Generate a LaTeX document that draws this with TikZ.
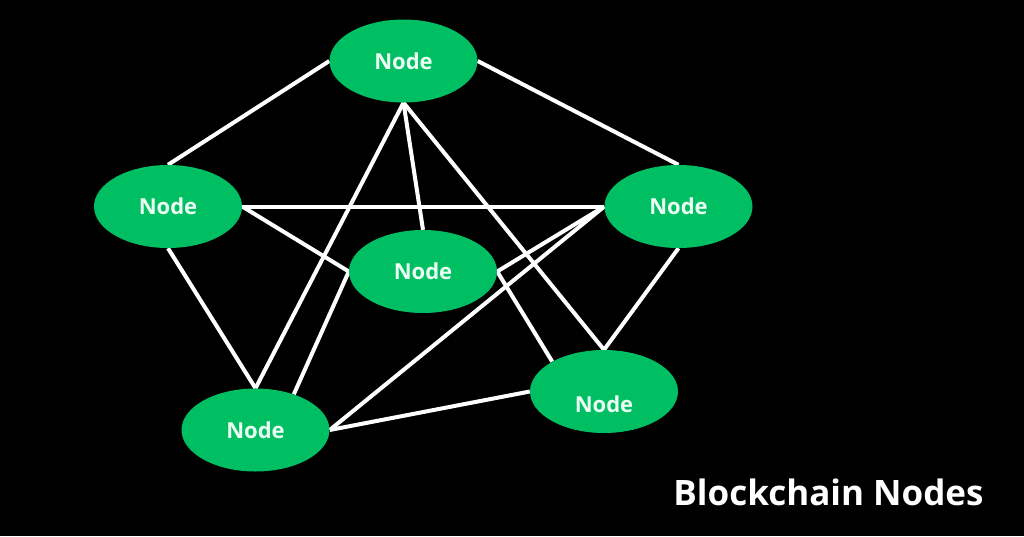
\documentclass[tikz,border=0pt]{standalone}
\usepackage{fontspec}
\setmainfont{Open Sans}
\usetikzlibrary{shapes.geometric,calc}
\definecolor{nodegreen}{RGB}{0,191,99}
\definecolor{nodetext}{RGB}{236,255,244}
\pgfdeclarelayer{back}
\pgfdeclarelayer{lines}
\pgfsetlayers{back,lines,main}
\tikzset{
  bnode/.style={ellipse, fill=nodegreen, draw=none, minimum width=148pt, minimum height=83pt, inner sep=0pt,
    text=nodetext, font=\bfseries\fontsize{22}{26}\selectfont},
  lbl/.style={text=nodetext, font=\bfseries\fontsize{22}{26}\selectfont, inner sep=0pt},
  link/.style={draw=white, line width=4pt},
  title/.style={text=white, font=\bfseries\fontsize{35}{40}\selectfont, inner sep=0pt}
}
\begin{document}
\begin{tikzpicture}[x=1pt,y=-1pt]
\useasboundingbox (0,0) rectangle (1024,536);
\begin{pgfonlayer}{back}
\fill[black] (0,0) rectangle (1024,536);
\end{pgfonlayer}
\node[bnode] (top) at (403.5,61) {Node};
\node[bnode] (left) at (168,206.5) {Node};
\node[bnode] (right) at (678.5,206.5) {Node};
\node[bnode] (center) at (423,271.5) {Node};
\node[bnode] (bl) at (255.5,430) {Node};
\node[bnode] (br) at (604,391.5) {};
\node[lbl] (brlabel) at ([yshift=-13pt]br.center) {Node};
\node[title, anchor=base] (caption) at (828.5,505) {Blockchain Nodes};
\begin{pgfonlayer}{lines}
\draw[link] (top.west) -- (left.north);
\draw[link] (top.east) -- (right.north);
\draw[link] (top.south) -- (center.north);
\draw[link] (top.south) -- (bl.north);
\draw[link] (top.south) -- (br.north);
\draw[link] (right.south) -- (br.north);
\draw[link] (left.east) -- (right.west);
\draw[link] (left.east) -- (center.west);
\draw[link] (center.west) -- (bl.43);
\draw[link] (left.south) -- (bl.north);
\draw[link] (right.west) -- (center.east);
\draw[link] (right.west) -- (bl.east);
\draw[link] (center.east) -- (br.150);
\draw[link] (bl.east) -- (br.west);
\end{pgfonlayer}
\end{tikzpicture}
\end{document}
